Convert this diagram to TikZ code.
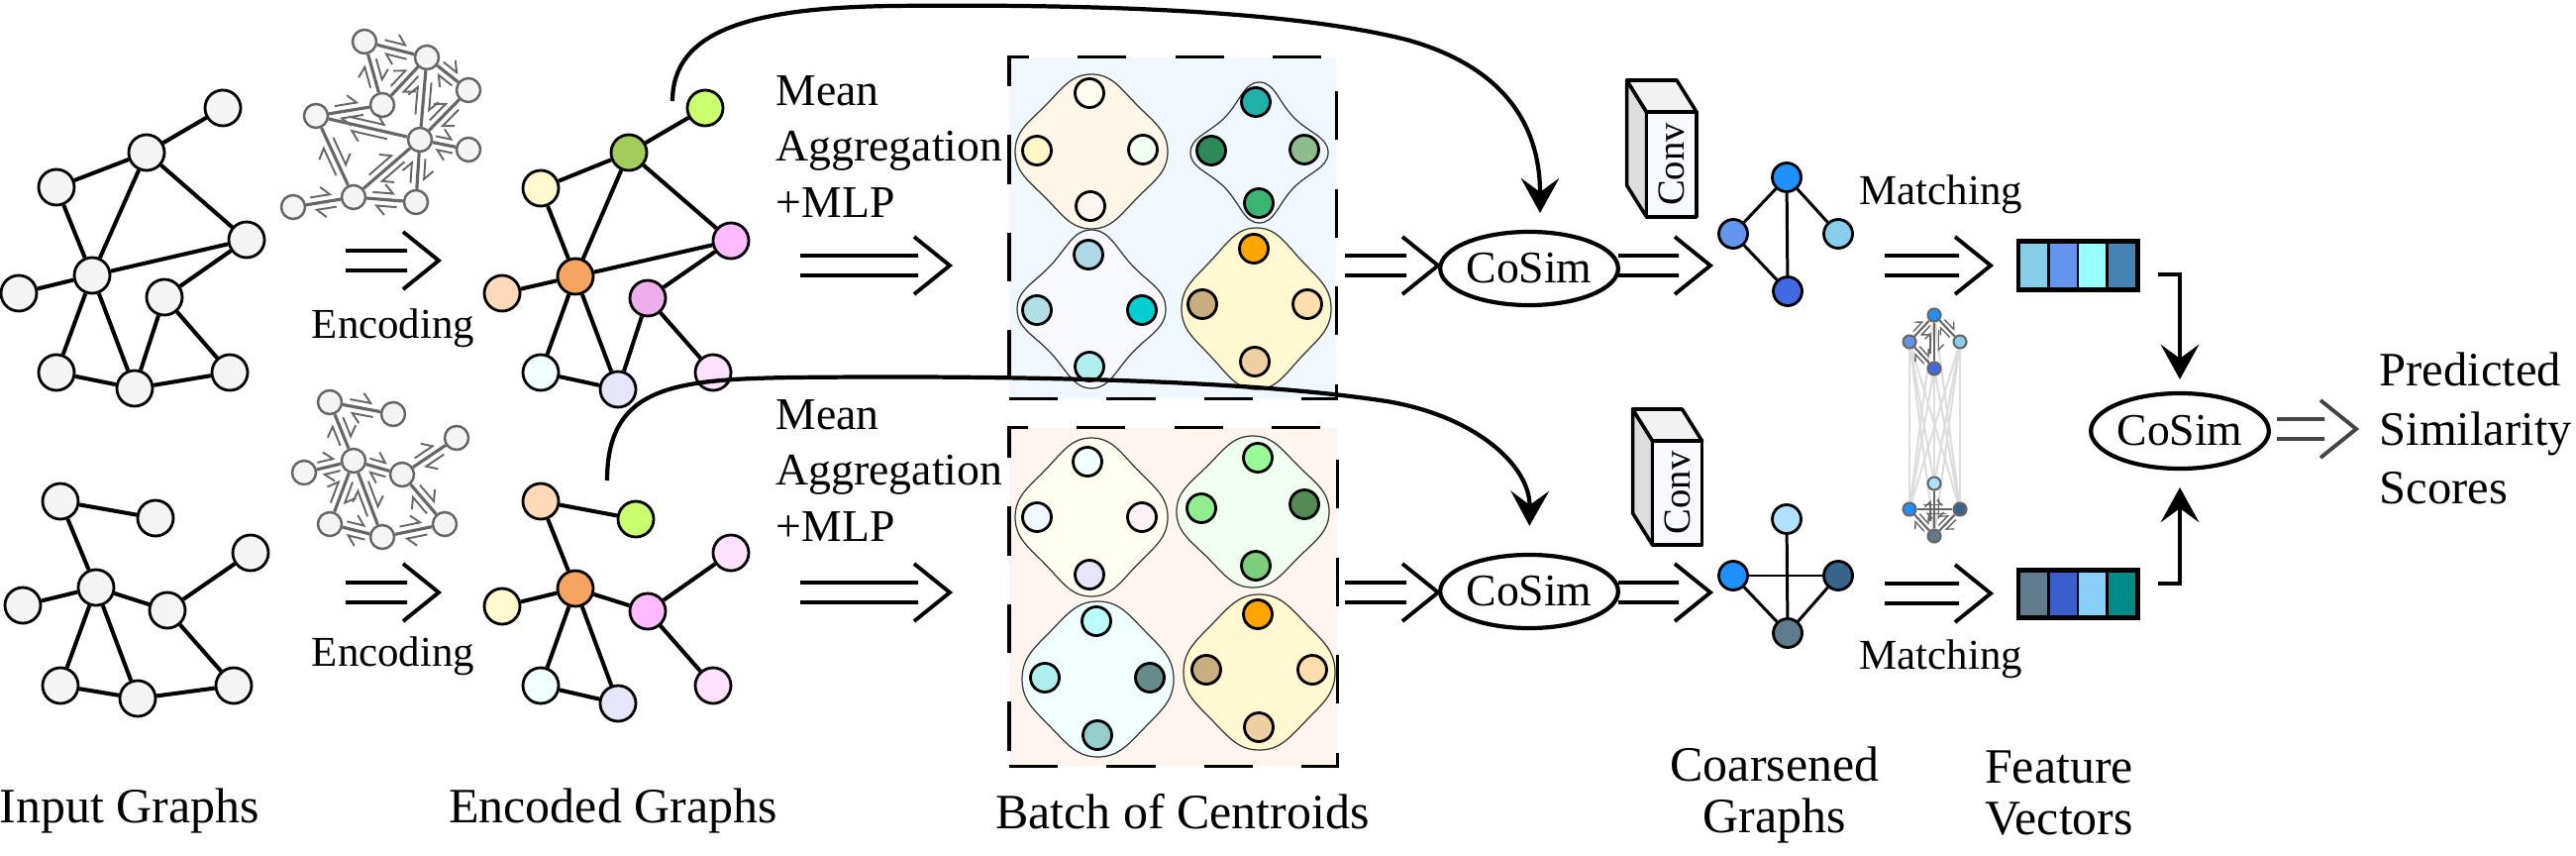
\documentclass[tikz,border=0pt]{standalone}
\usepackage{fontspec}
\setmainfont{Liberation Serif}
\usetikzlibrary{arrows.meta,calc,shapes.geometric}
\pgfdeclarelayer{bg}
\pgfsetlayers{bg,main}
\newcommand\dc[1]{\definecolor{x#1}{HTML}{#1}}
\dc{F4F4F4}\dc{666666}\dc{CAFF70}\dc{A2CD5A}\dc{FFFACD}\dc{FFBBFF}\dc{F4A460}\dc{FFDAB9}
\dc{EEAEEE}\dc{F0FFFF}\dc{E6E6FA}\dc{FFE1FF}\dc{F0F8FF}\dc{FFF5EE}\dc{FDF5E6}\dc{F8F8FF}
\dc{FFF8D0}\dc{FFFFF0}\dc{F0FFF0}\dc{FFF8C6}\dc{20B2AA}\dc{2E8B57}\dc{8FBC8F}\dc{3CB371}
\dc{ADD8E6}\dc{B0E0E6}\dc{00CED1}\dc{AFEEEE}\dc{FFA500}\dc{C8AD7F}\dc{FFDEAD}\dc{EECFA1}
\dc{FFF0F5}\dc{98FB98}\dc{90EE90}\dc{548B54}\dc{7CCD7C}\dc{BBFFFF}\dc{AEEEEE}\dc{668B8B}
\dc{96CDCD}\dc{1E90FF}\dc{6495ED}\dc{87CEEB}\dc{4169E1}\dc{B0E2FF}\dc{36648B}\dc{607B8B}
\dc{97FFFF}\dc{4682B4}\dc{3A5FCD}\dc{87CEFA}\dc{008B8B}\dc{F2F2F2}\dc{DCDCDC}\dc{DDDDDD}
\dc{444444}
% message arrows on an edge: two opposite harpoons
\newcommand\msgs[3][1.9pt]{%
  \draw[msgarr] ($(#2)!0.3!(#3)!#1!90:(#3)$) -- ($(#2)!0.66!(#3)!#1!90:(#3)$);
  \draw[msgarr] ($(#3)!0.3!(#2)!#1!90:(#2)$) -- ($(#3)!0.66!(#2)!#1!90:(#2)$);}
\newcommand\msgsmall[2]{%
  \draw[msgarrs] ($(#1)!0.28!(#2)!1.2pt!90:(#2)$) -- ($(#1)!0.68!(#2)!1.2pt!90:(#2)$);
  \draw[msgarrs] ($(#2)!0.28!(#1)!1.2pt!90:(#1)$) -- ($(#2)!0.68!(#1)!1.2pt!90:(#1)$);}
% double arrow: start x, tip x, y
\newcommand\darr[3]{%
  \draw[dblline] (#1,{#3-10}) -- ({#2-32},{#3-10}) (#1,{#3+10}) -- ({#2-32},{#3+10})
     ({#2-36},{#3-29}) -- (#2,#3) -- ({#2-36},{#3+29});}
% blob: cx cy rx ry d fill
\newcommand\blob[6]{%
  \draw[blobline,fill=#6] plot[smooth cycle,tension=0.8] coordinates {(#1,{#2-#4}) ({#1+#5*#3},{#2-#5*#4}) ({#1+#3},#2) ({#1+#5*#3},{#2+#5*#4}) (#1,{#2+#4}) ({#1-#5*#3},{#2+#5*#4}) ({#1-#3},#2) ({#1-#5*#3},{#2-#5*#4})};}
\begin{document}
\begin{tikzpicture}[x=0.01cm,y=-0.01cm,
  font=\fontsize{13}{16}\selectfont,
  gn/.style={circle,draw,line width=0.8pt,fill=xF4F4F4,minimum size=0.36cm,inner sep=0pt},
  en/.style={circle,draw,line width=0.8pt,minimum size=0.36cm,inner sep=0pt},
  ge/.style={line width=1.15pt},
  mn/.style={circle,draw=x666666,line width=0.7pt,fill=xF4F4F4,minimum size=0.24cm,inner sep=0pt},
  me/.style={draw=x666666,line width=0.9pt},
  msgarr/.style={draw=x666666,line width=0.55pt,-{Straight Barb[harpoon,length=2.4pt,width=5pt]}},
  msgarrs/.style={draw=x666666,line width=0.4pt,-{Straight Barb[harpoon,length=1.5pt,width=3pt]}},
  cn/.style={circle,draw,line width=0.8pt,minimum size=0.29cm,inner sep=0pt},
  sn/.style={circle,draw=x666666,line width=0.6pt,minimum size=0.13cm,inner sep=0pt},
  ce/.style={line width=0.85pt},
  se/.style={draw=x666666,line width=0.6pt},
  faint/.style={draw=xDDDDDD,line width=0.6pt},
  dblline/.style={line width=1.1pt,line join=miter,line cap=butt},
  blobline/.style={draw=black!80,line width=0.35pt},
  cosim/.style={ellipse,draw,line width=1.2pt,minimum width=1.68cm,minimum height=0.74cm,inner sep=0pt},
  curv/.style={line width=1.2pt,-{Stealth[length=10pt,width=11pt,inset=4pt]}},
  cell/.style={draw,line width=0.8pt,minimum width=0.295cm,minimum height=0.46cm,inner sep=0pt},
  conv/.style={draw,line width=1pt,line join=round},
  lbl/.style={inner sep=0pt},
  small/.style={font=\fontsize{12.2}{14}\selectfont},
  big/.style={font=\fontsize{14.2}{16}\selectfont}
]
\useasboundingbox (0,0) rectangle (2601,864);

% ---------------- input graphs ----------------
\foreach \n/\p in {iA/{225,109},iB/{148,154},iC/{57,189},iD/{249,242},iE/{93,278},iF/{19,296},iG/{166,300},iH/{57,376},iI/{136,392},iJ/{232,376}}
  \node[gn] (\n) at (\p) {};
\foreach \a/\b in {iA/iB,iB/iC,iB/iE,iB/iD,iC/iE,iE/iD,iE/iF,iE/iH,iE/iI,iD/iG,iG/iI,iG/iJ,iH/iI,iI/iJ}
  \draw[ge] (\a) -- (\b);
\foreach \n/\p in {ja/{61,506},jb/{157,523},jc/{253,558},jd/{97,593},je/{23,611},jf/{169,616},jg/{61,692},jh/{139,705},ji/{236,692}}
  \node[gn] (\n) at (\p) {};
\foreach \a/\b in {ja/jb,ja/jd,jd/je,jd/jf,jf/jc,jd/jg,jd/jh,jg/jh,jh/ji,jf/ji}
  \draw[ge] (\a) -- (\b);

% ---------------- encoding mini graphs ----------------
\foreach \n/\p in {ma1/{368,42},ma2/{431,58},ma3/{473,91},ma4/{386,106},ma5/{319,117},ma6/{424,141},ma7/{473,151},ma8/{357,199},ma9/{420,204},ma10/{296,209}}
  \node[mn] (\n) at (\p) {};
\foreach \a/\b in {ma1/ma2,ma1/ma4,ma2/ma4,ma2/ma6,ma2/ma3,ma3/ma6,ma5/ma4,ma5/ma6,ma5/ma8,ma6/ma7,ma6/ma8,ma6/ma9,ma8/ma9,ma8/ma10}
  {\draw[me] (\a) -- (\b); \msgs{\a}{\b}}
\foreach \n/\p in {mb1/{333,406},mb2/{397,418},mb3/{461,442},mb4/{357,465},mb5/{307,477},mb6/{406,479},mb7/{333,529},mb8/{386,542},mb9/{449,529}}
  \node[mn] (\n) at (\p) {};
\foreach \a/\b in {mb1/mb2,mb1/mb4,mb4/mb5,mb4/mb6,mb6/mb3,mb4/mb7,mb4/mb8,mb7/mb8,mb8/mb9,mb6/mb9}
  {\draw[me] (\a) -- (\b); \msgs{\a}{\b}}

\darr{349}{443}{263}
\darr{349}{443}{598}
\node[lbl,small,anchor=base] (enc1) at (397,342) {Encoding};
\node[lbl,small,anchor=base] (enc2) at (397,672) {Encoding};

% ---------------- encoded graphs ----------------
\foreach \n/\p/\c in {eA/{712,109}/CAFF70,eB/{635,154}/A2CD5A,eC/{546,190}/FFFACD,eD/{738,243}/FFBBFF,eE/{581,279}/F4A460,eF/{507,296}/FFDAB9,eG/{654,301}/EEAEEE,eH/{546,376}/F0FFFF,eI/{624,393}/E6E6FA,eJ/{720,376}/FFE1FF}
  \node[en,fill=x\c] (\n) at (\p) {};
\foreach \a/\b in {eA/eB,eB/eC,eB/eE,eB/eD,eC/eE,eE/eD,eE/eF,eE/eH,eE/eI,eD/eG,eG/eI,eG/eJ,eH/eI}
  \draw[ge] (\a) -- (\b);
\foreach \n/\p/\c in {fA/{546,506}/FFDAB9,fB/{642,524}/CAFF70,fC/{738,558}/FFE1FF,fD/{581,594}/F4A460,fE/{507,612}/FFFACD,fF/{654,617}/FFBBFF,fG/{546,692}/F0FFFF,fH/{624,710}/E6E6FA,fI/{720,692}/FFE1FF}
  \node[en,fill=x\c] (\n) at (\p) {};
\foreach \a/\b in {fA/fB,fA/fD,fD/fE,fD/fF,fF/fC,fD/fG,fD/fH,fG/fH,fF/fI}
  \draw[ge] (\a) -- (\b);

% ---------------- mean aggregation ----------------
\node[lbl,anchor=north west,align=left] (mag1) at (783,76) {Mean\\Aggregation\\+MLP};
\node[lbl,anchor=north west,align=left] (mag2) at (783,403) {Mean\\Aggregation\\+MLP};
\darr{808}{959}{268}
\darr{808}{959}{598}

% ---------------- batch of centroids ----------------
\node[draw,line width=0.9pt,dash pattern=on 14pt off 14pt,fill=xF0F8FF,minimum width=3.30cm,minimum height=3.44cm,inner sep=0pt] (box1) at (1184,230) {};
\node[draw,line width=0.9pt,dash pattern=on 14pt off 14pt,fill=xFFF5EE,minimum width=3.31cm,minimum height=3.41cm,inner sep=0pt] (box2) at (1184.5,602.5) {};

\blob{1102}{153}{77}{78}{0.6}{xFDF5E6}
\blob{1271.5}{154}{69.5}{71}{0.5}{xF0F8FF}
\blob{1102}{312}{75}{80}{0.55}{xF8F8FF}
\blob{1268.5}{311.5}{75.5}{81.5}{0.6}{xFFF8D0}
\blob{1102}{522}{77}{80}{0.6}{xFFFFF0}
\blob{1265}{516.5}{77}{76.5}{0.6}{xF0FFF0}
\blob{1108.5}{685.5}{76.5}{78.5}{0.62}{xF0FFFF}
\blob{1271.5}{678.5}{76.5}{78.5}{0.62}{xFFF8D0}

\foreach \n/\p/\c in {
  k1/{1100,94}/FFFFF0,k2/{1047,152}/FFF8C6,k3/{1154,151}/F0FFF0,k4/{1101,208}/FFF5EE,
  k5/{1268,103}/20B2AA,k6/{1223,152}/2E8B57,k7/{1317,151}/8FBC8F,k8/{1271,205}/3CB371,
  k9/{1099,257}/ADD8E6,k10/{1047,313}/B0E0E6,k11/{1153,313}/00CED1,k12/{1100,370}/AFEEEE,
  k13/{1266,251}/FFA500,k14/{1214,307}/C8AD7F,k15/{1320,307}/FFDEAD,k16/{1267,365}/EECFA1,
  l1/{1098,466}/F0FFFF,l2/{1047,522}/F0F8FF,l3/{1153,522}/FFF0F5,l4/{1100,580}/E6E6FA,
  l5/{1270,462}/98FB98,l6/{1213,513}/90EE90,l7/{1317,509}/548B54,l8/{1268,571}/7CCD7C,
  l9/{1107,627}/BBFFFF,l10/{1055,684}/AEEEEE,l11/{1161,684}/668B8B,l12/{1108,742}/96CDCD,
  l13/{1270,620}/FFA500,l14/{1218,676}/C8AD7F,l15/{1325,676}/FFDEAD,l16/{1271,734}/EECFA1}
  \node[cn,fill=x\c] (\n) at (\p) {};

% ---------------- CoSim ----------------
\darr{1358}{1452}{268}
\darr{1358}{1452}{598}
\node[cosim] (cs1) at (1544,271) {CoSim};
\node[cosim] (cs2) at (1544,597) {CoSim};

% curved arrows from encoded graphs
\coordinate (ts) at (679,102);
\coordinate (bs) at (613,485);
\draw[curv,shorten >=4.8pt] (ts) .. controls (679,30) and (760,8) .. (900,6)
   .. controls (1100,4) and (1300,10) .. (1420,40)
   .. controls (1500,62) and (1555,110) .. ([xshift=0.11cm]cs1.north);
\draw[curv,shorten >=7.7pt] (bs) .. controls (613,390) and (680,383) .. (800,381)
   .. controls (1000,379) and (1250,382) .. (1400,405)
   .. controls (1490,420) and (1545,470) .. (cs2.north);

% ---------------- Conv boxes ----------------
\draw[conv,fill=xDCDCDC] (1642.5,81) -- (1662.5,113) -- (1662.5,219) -- (1642.5,187) -- cycle;
\draw[conv,fill=xF2F2F2] (1642.5,81) -- (1693,81) -- (1713,113) -- (1662.5,113) -- cycle;
\node[conv,fill=xF8F8FF,rotate=90,minimum width=1.06cm,minimum height=0.505cm,inner sep=0pt,font=\fontsize{11}{13}\selectfont] (conv1) at (1687.75,166) {Conv};
\draw[conv,fill=xDCDCDC] (1648.5,413) -- (1668.5,445) -- (1668.5,550) -- (1648.5,518) -- cycle;
\draw[conv,fill=xF2F2F2] (1648.5,413) -- (1698.5,413) -- (1718.5,445) -- (1668.5,445) -- cycle;
\node[conv,fill=xF8F8FF,rotate=90,minimum width=1.05cm,minimum height=0.50cm,inner sep=0pt,font=\fontsize{11}{13}\selectfont] (conv2) at (1693.5,497.5) {Conv};

\darr{1634}{1727}{268}
\darr{1634}{1727}{598}

% ---------------- coarsened graphs ----------------
\foreach \n/\p/\c in {c1/{1804,179}/1E90FF,c2/{1750,236}/6495ED,c3/{1856,236}/87CEEB,c4/{1805,294}/4169E1,
  d1/{1804,524}/B0E2FF,d2/{1750,581}/1E90FF,d3/{1856,581}/36648B,d4/{1805,639}/607B8B}
  \node[cn,fill=x\c] (\n) at (\p) {};
\foreach \a/\b in {c1/c2,c1/c3,c1/c4,c2/c4,d1/d4,d2/d3,d2/d4,d3/d4}
  \draw[ce] (\a) -- (\b);

% ---------------- matching ----------------
\node[lbl,small,anchor=base west] (mt1) at (1877,207) {Matching};
\node[lbl,small,anchor=base west] (mt2) at (1877,675) {Matching};
\darr{1903}{2010}{268}
\darr{1903}{2010}{599}
\foreach \n/\p/\c in {s1/{1953,318}/1E90FF,s2/{1928,345}/6495ED,s3/{1979,345}/87CEEB,s4/{1953,372}/4169E1,
  t1/{1953,488}/B0E2FF,t2/{1928,514}/1E90FF,t3/{1979,514}/36648B,t4/{1953,541}/607B8B}
  \node[sn,fill=x\c] (\n) at (\p) {};
\begin{pgfonlayer}{bg}
\foreach \a in {s1,s2,s3,s4}
  \foreach \b in {t1,t2,t3,t4}
    \draw[faint] (\a) -- (\b);
\end{pgfonlayer}
\foreach \a/\b in {s1/s2,s1/s3,s1/s4,s2/s4,t1/t4,t2/t3,t2/t4,t3/t4}
  {\draw[se] (\a) -- (\b); \msgsmall{\a}{\b}}

% ---------------- feature vectors ----------------
\foreach \i/\c [count=\k from 0] in {a/87CEEB,b/6495ED,c/97FFFF,d/4682B4}
  \node[cell,fill=x\c] (fv1\i) at ({2053.75+29.5*\k},268) {};
\foreach \i/\c [count=\k from 0] in {a/607B8B,b/3A5FCD,c/87CEFA,d/008B8B}
  \node[cell,fill=x\c] (fv2\i) at ({2053.75+29.5*\k},599.5) {};
\draw[line width=1.2pt] (fv1a.north west) rectangle (fv1d.south east);
\draw[line width=1.2pt] (fv2a.north west) rectangle (fv2d.south east);

% ---------------- final CoSim ----------------
\node[cosim,minimum width=1.64cm,minimum height=0.76cm] (cs3) at (2201,435) {CoSim};
\draw[curv,shorten >=3.4pt] ([xshift=0.21cm,yshift=-0.09cm]fv1d.east) -| (cs3.north);
\draw[curv,shorten >=4.8pt] ([xshift=0.21cm,yshift=0.105cm]fv2d.east) -| (cs3.south);
\begin{scope}[draw=x444444]
\darr{2299}{2379}{433}
\end{scope}
\node[lbl,anchor=north west,align=left,font=\fontsize{13.8}{17}\selectfont] (pred) at (2402,355) {Predicted\\Similarity\\Scores};

% ---------------- bottom labels ----------------
\node[lbl,big,anchor=base] (lin) at (131,830) {Input Graphs};
\node[lbl,big,anchor=base] (lenc) at (619,830) {Encoded Graphs};
\node[lbl,big,anchor=base] (lbat) at (1194,836) {Batch of Centroids};
\node[lbl,anchor=north,align=center,font=\fontsize{14.2}{14.8}\selectfont] (lcoa) at (1792,753) {Coarsened\\Graphs};
\node[lbl,anchor=north,align=center,font=\fontsize{14.2}{14.8}\selectfont] (lfv) at (2079,757) {Feature\\Vectors};
\end{tikzpicture}
\end{document}
